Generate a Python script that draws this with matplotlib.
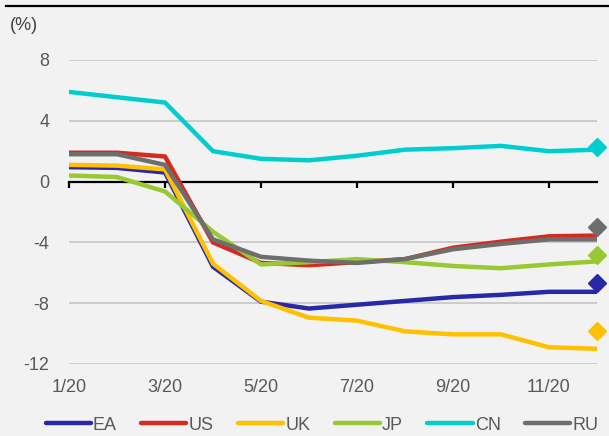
import matplotlib
matplotlib.use("Agg")
import matplotlib.pyplot as plt
from matplotlib.lines import Line2D
from matplotlib.ticker import FuncFormatter

plt.rcParams["font.family"] = ["Liberation Sans", "DejaVu Sans"]
plt.rcParams["axes.unicode_minus"] = False

# Monthly readings, 2020
months = ["1/20", "2/20", "3/20", "4/20", "5/20", "6/20",
          "7/20", "8/20", "9/20", "10/20", "11/20", "12/20"]

ea = [0.95, 0.9, 0.6, -5.6, -7.9, -8.35, -8.1, -7.85, -7.6, -7.45, -7.25, -7.25]
us = [1.9, 1.9, 1.65, -4.0, -5.35, -5.5, -5.3, -5.1, -4.35, -3.95, -3.6, -3.55]
uk = [1.1, 1.05, 0.8, -5.4, -7.85, -8.95, -9.15, -9.85, -10.05, -10.05, -10.9, -11.0]
jp = [0.4, 0.3, -0.65, -3.3, -5.45, -5.3, -5.1, -5.3, -5.55, -5.7, -5.45, -5.25]
cn = [5.9, 5.55, 5.2, 2.0, 1.5, 1.4, 1.7, 2.1, 2.2, 2.35, 2.0, 2.1]
ru = [1.8, 1.8, 1.1, -3.8, -4.95, -5.2, -5.35, -5.1, -4.45, -4.1, -3.8, -3.8]

series_names = ["EA", "US", "UK", "JP", "CN", "RU"]
series_values = [ea, us, uk, jp, cn, ru]
colors = ["#2828a8", "#d8291e", "#ffc000", "#98c832", "#00cdd0", "#6d6e6e"]

# Year-end projections (diamonds); US has none
proj_values = {"EA": -6.7, "UK": -9.8, "JP": -4.8, "CN": 2.3, "RU": -3.0}

y_ticks = [8, 4, 0, -4, -8, -12]
x_tick_idx = [0, 2, 4, 6, 8, 10]

bg = "#f2f2f2"
text_color = "#595959"

fig = plt.figure(figsize=(6.09, 4.36), dpi=100, facecolor=bg)
ax = fig.add_axes([69 / 609, 1 - 364 / 436, (597 - 69) / 609, (364 - 60) / 436])
ax.set_facecolor(bg)

x = list(range(len(months)))
for name, vals, col in zip(series_names, series_values, colors):
    ax.plot(x, vals, color=col, lw=3.2, solid_joinstyle="miter", label=name,
            zorder=3)

for name, col in zip(series_names, colors):
    if name in proj_values:
        ax.plot([x[-1]], [proj_values[name]], marker="D", ms=9.5, color=col,
                mec=col, ls="none", clip_on=False, zorder=4)

ax.set_xlim(0, len(months) - 1)
ax.set_ylim(-12, 8)

# horizontal gridlines
ax.set_yticks(y_ticks)
ax.yaxis.set_major_formatter(FuncFormatter(lambda v, p: f"{int(v)}"))
ax.grid(axis="y", color="#c8c8c8", lw=1.3, zorder=1)
ax.grid(axis="x", visible=False)
ax.tick_params(axis="y", length=0, pad=14, labelsize=13, labelcolor=text_color)

# zero axis with downward ticks
for s in ["top", "right", "left"]:
    ax.spines[s].set_visible(False)
ax.spines["bottom"].set_position(("data", 0))
ax.spines["bottom"].set_color("black")
ax.spines["bottom"].set_linewidth(1.6)
ax.spines["bottom"].set_zorder(2)
ax.set_xticks(x_tick_idx)
ax.set_xticklabels([])
ax.tick_params(axis="x", direction="out", length=4, width=1.6, color="black")

# month labels at the foot of the plot
sec = ax.secondary_xaxis("bottom")
sec.set_xticks(x_tick_idx)
sec.set_xticklabels([months[i] for i in x_tick_idx])
sec.tick_params(length=0, pad=11, labelsize=13, labelcolor=text_color)
sec.spines["bottom"].set_visible(False)

fig.text(10 / 609, 1 - 26 / 436, "(%)", fontsize=13, color="#404040",
         ha="left", va="center")

fig.add_artist(Line2D([6 / 609, 1.0], [1 - 6.5 / 436] * 2,
                      transform=fig.transFigure, color="black", lw=1.6))

handles = [Line2D([0], [0], color=c, lw=3.2, solid_capstyle="round")
           for c in colors]
fig.legend(handles, series_names, loc="center",
           bbox_to_anchor=(322 / 609, 1 - 425 / 436), ncol=6, frameon=False,
           fontsize=13, handlelength=2.5, handletextpad=0.12,
           columnspacing=1.35, labelcolor=text_color)

fig.savefig("out.png", dpi=100, facecolor=bg)
